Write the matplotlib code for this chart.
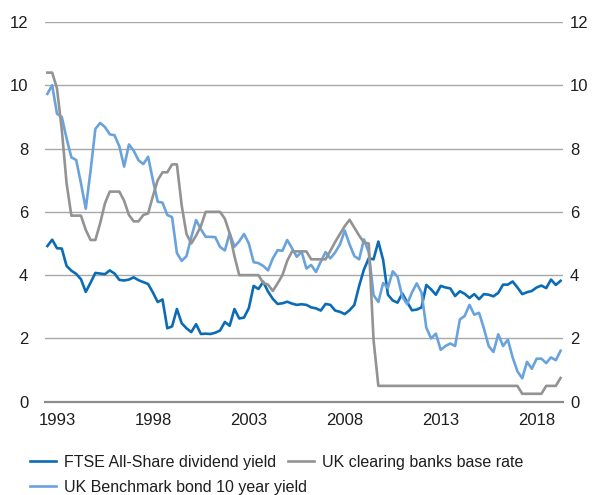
import matplotlib
matplotlib.use("Agg")
import matplotlib.pyplot as plt

# Quarterly observations, first point = 1992 Q3
dividend_yield = [
    4.92, 5.12, 4.85, 4.84, 4.29, 4.14, 4.04, 3.87, 3.47, 3.76,
    4.07, 4.05, 4.03, 4.15, 4.05, 3.85, 3.83, 3.86, 3.93, 3.84,
    3.78, 3.72, 3.45, 3.15, 3.23, 2.32, 2.38, 2.93, 2.48, 2.32,
    2.20, 2.45, 2.14, 2.15, 2.14, 2.18, 2.25, 2.52, 2.40, 2.93,
    2.63, 2.66, 2.96, 3.66, 3.56, 3.79, 3.48, 3.25, 3.09, 3.11,
    3.16, 3.10, 3.06, 3.08, 3.06, 2.98, 2.95, 2.88, 3.09, 3.06,
    2.88, 2.84, 2.77, 2.89, 3.06, 3.66, 4.18, 4.53, 4.50, 5.06,
    4.48, 3.38, 3.20, 3.13, 3.42, 3.15, 2.89, 2.91, 2.98, 3.69,
    3.55, 3.38, 3.66, 3.61, 3.58, 3.34, 3.49, 3.41, 3.28, 3.40,
    3.24, 3.40, 3.38, 3.33, 3.44, 3.70, 3.70, 3.80, 3.61, 3.40,
    3.46, 3.50, 3.61, 3.67, 3.59, 3.86, 3.69, 3.82,
]

bond_yield = [
    9.73, 10.0, 9.10, 9.00, 8.32, 7.72, 7.64, 6.90, 6.10, 7.30,
    8.62, 8.81, 8.68, 8.45, 8.42, 8.07, 7.43, 8.13, 7.93, 7.63,
    7.51, 7.74, 7.00, 6.32, 6.29, 5.90, 5.83, 4.70, 4.45, 4.60,
    5.20, 5.74, 5.45, 5.21, 5.21, 5.20, 4.89, 4.78, 5.32, 4.90,
    5.07, 5.30, 5.00, 4.41, 4.38, 4.29, 4.15, 4.53, 4.79, 4.77,
    5.11, 4.85, 4.58, 4.74, 4.21, 4.32, 4.10, 4.43, 4.73, 4.53,
    4.72, 4.97, 5.41, 4.97, 4.60, 4.50, 5.13, 4.72, 3.37, 3.15,
    3.75, 3.60, 4.12, 3.95, 3.32, 3.08, 3.45, 3.74, 3.45, 2.34,
    2.00, 2.15, 1.64, 1.76, 1.84, 1.76, 2.60, 2.71, 3.06, 2.75,
    2.81, 2.32, 1.76, 1.57, 2.13, 1.76, 1.96, 1.40, 0.96, 0.74,
    1.26, 1.04, 1.36, 1.36, 1.22, 1.40, 1.31, 1.61,
]

base_rate = [
    10.4, 10.4, 9.90, 8.60, 6.90, 5.88, 5.88, 5.88, 5.43, 5.11,
    5.11, 5.64, 6.27, 6.64, 6.64, 6.64, 6.35, 5.90, 5.70, 5.70,
    5.90, 5.95, 6.50, 7.00, 7.25, 7.25, 7.50, 7.50, 6.20, 5.30,
    5.00, 5.25, 5.55, 6.00, 6.00, 6.00, 6.00, 5.78, 5.32, 4.60,
    4.00, 4.00, 4.00, 4.00, 4.00, 3.75, 3.70, 3.50, 3.74, 4.00,
    4.45, 4.75, 4.75, 4.75, 4.75, 4.50, 4.50, 4.50, 4.50, 4.77,
    5.05, 5.30, 5.55, 5.75, 5.50, 5.25, 5.03, 5.00, 1.95, 0.50,
    0.50, 0.50, 0.50, 0.50, 0.50, 0.50, 0.50, 0.50, 0.50, 0.50,
    0.50, 0.50, 0.50, 0.50, 0.50, 0.50, 0.50, 0.50, 0.50, 0.50,
    0.50, 0.50, 0.50, 0.50, 0.50, 0.50, 0.50, 0.50, 0.50, 0.25,
    0.25, 0.25, 0.25, 0.25, 0.50, 0.50, 0.50, 0.75,
]

year_labels = ["1993", "1998", "2003", "2008", "2013", "2018"]
label_positions = [2, 22, 42, 62, 82, 102]
y_ticks = [0, 2, 4, 6, 8, 10, 12]

plt.rcParams["font.family"] = ["Liberation Sans", "DejaVu Sans"]
plt.rcParams["font.size"] = 11.5

DARK_BLUE = "#0b6cb5"
LIGHT_BLUE = "#6aa3dc"
GREY = "#939393"
TEXT = "#1e1e1e"

fig = plt.figure(figsize=(5.92, 4.95), dpi=100)
ax = fig.add_axes([45 / 592, 1 - 401.7 / 495, 518 / 592, (401.7 - 22) / 495])

x = list(range(len(dividend_yield)))
l1, = ax.plot(x, dividend_yield, color=DARK_BLUE, lw=1.9, label="FTSE All-Share dividend yield")
l2, = ax.plot(x, bond_yield, color=LIGHT_BLUE, lw=1.9, label="UK Benchmark bond 10 year yield")
l3, = ax.plot(x, base_rate, color=GREY, lw=1.9, label="UK clearing banks base rate")

ax.set_xlim(-0.5, len(x) - 0.5)
ax.set_ylim(0, 12)
ax.set_yticks(y_ticks)
ax.set_xticks(label_positions)
ax.set_xticklabels(year_labels)
ax.grid(axis="y", color="#a8a8a8", lw=1.0)
ax.set_axisbelow(True)
for side in ["top", "right", "left"]:
    ax.spines[side].set_visible(False)
ax.spines["bottom"].set_color("#8c8c8c")
ax.spines["bottom"].set_linewidth(1.6)
ax.tick_params(axis="x", length=0, pad=8, colors=TEXT, labelsize=12)
ax.tick_params(axis="y", length=0, pad=12, colors=TEXT, labelsize=12)

ax2 = ax.twinx()
ax2.set_ylim(0, 12)
ax2.set_yticks(y_ticks)
for side in ["top", "right", "left", "bottom"]:
    ax2.spines[side].set_visible(False)
ax2.tick_params(axis="y", length=0, pad=5, colors=TEXT, labelsize=12)

legend_style = dict(
    loc="upper left",
    frameon=False,
    handlelength=1.6,
    handletextpad=0.5,
    labelspacing=0.62,
    borderaxespad=0,
    borderpad=0,
    fontsize=11.5,
    labelcolor=TEXT,
)
fig.legend(handles=[l1, l2], bbox_to_anchor=(30 / 592, 1 - 455 / 495), **legend_style)
fig.legend(handles=[l3], bbox_to_anchor=(288 / 592, 1 - 455 / 495), **legend_style)

fig.savefig("out.png", dpi=100)
